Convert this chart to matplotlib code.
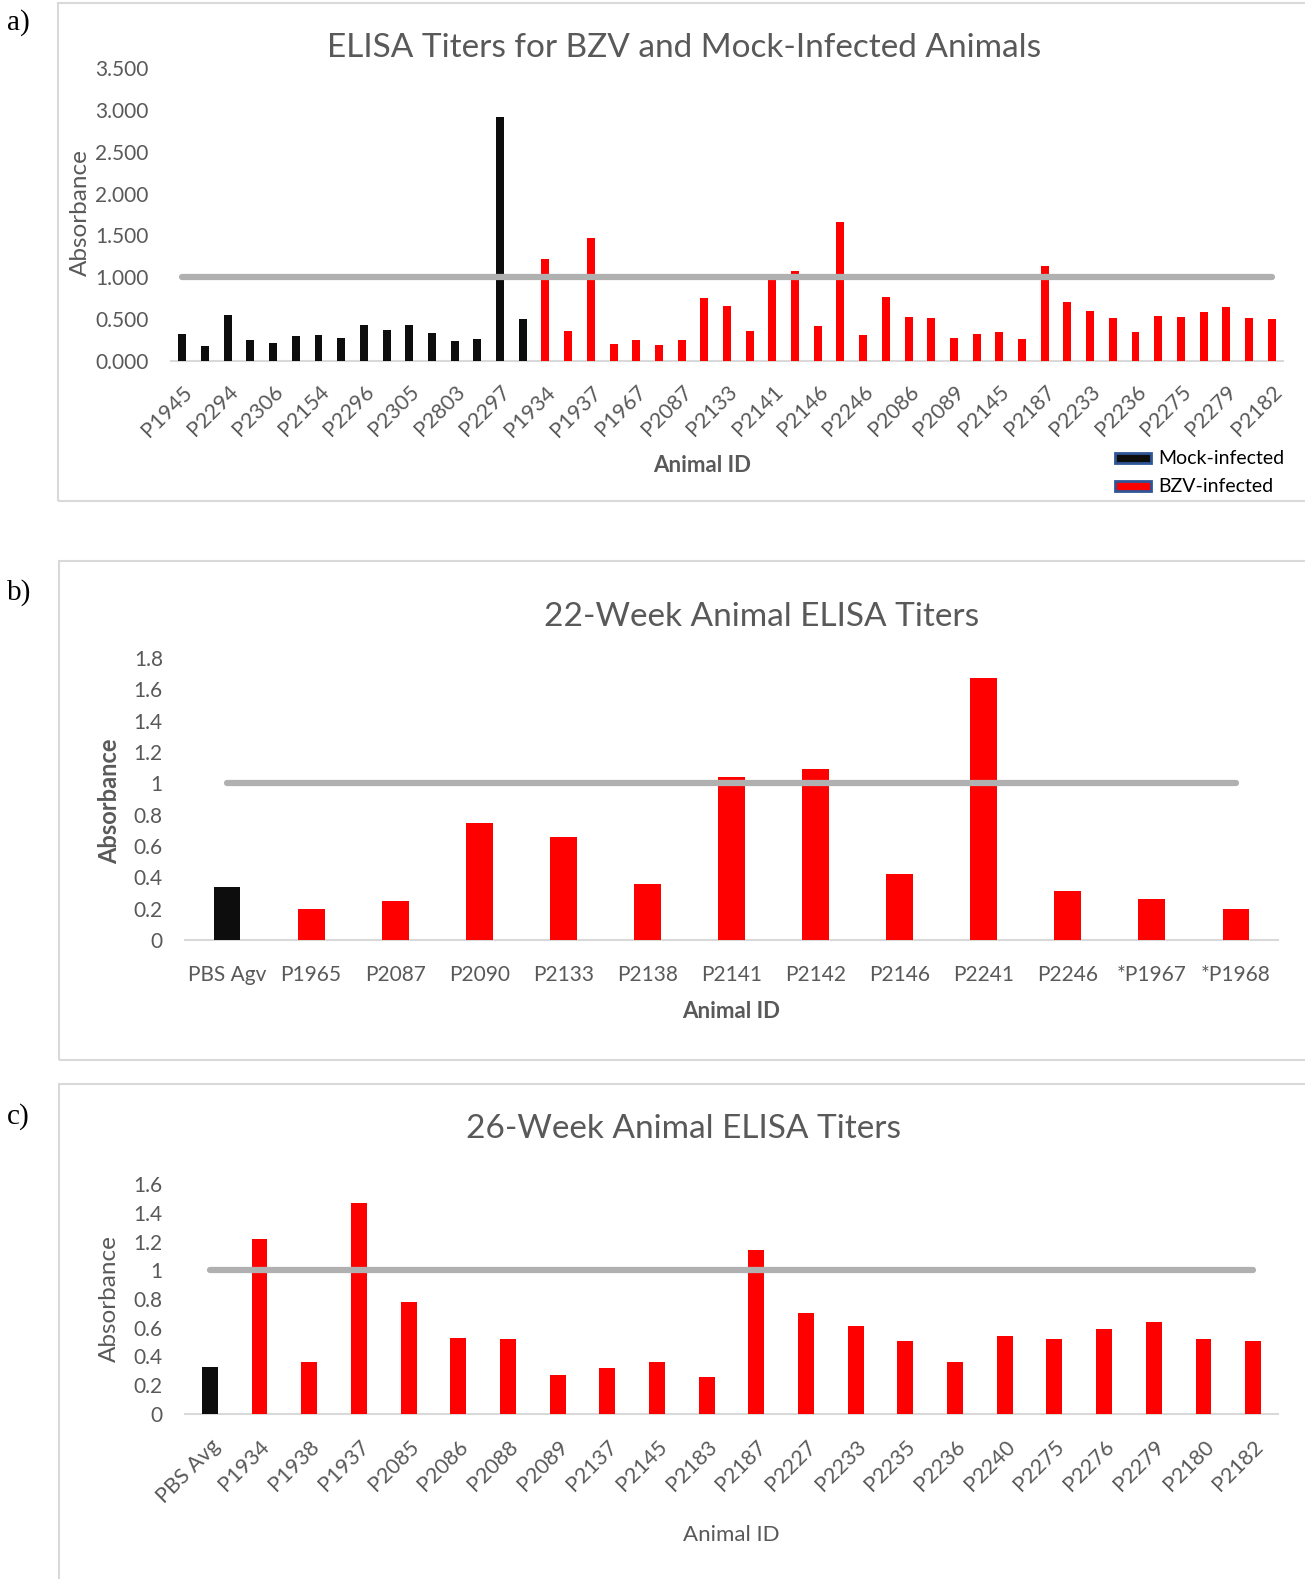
import matplotlib
matplotlib.use("Agg")
import matplotlib.pyplot as plt
from matplotlib.patches import Rectangle

plt.rcParams['font.family'] = ['Lato', 'DejaVu Sans']

W, H = 1305, 1579
GREY_TXT = '#595959'
RED = '#ff0000'
BLACK = '#0d0d0d'
CUTOFF = 1.0

# panel a: all animals (mock first, then BZV), only every other ID is labelled
mock_vals = [0.32, 0.18, 0.55, 0.25, 0.21, 0.30, 0.31, 0.27,
             0.43, 0.37, 0.43, 0.34, 0.24, 0.26, 2.91, 0.50]
bzv_vals_a = [1.22, 0.36, 1.47, 0.20, 0.25, 0.19, 0.25, 0.75, 0.66, 0.36, 1.04,
              1.08, 0.42, 1.66, 0.31, 0.77, 0.52, 0.51, 0.27, 0.32, 0.35, 0.26,
              1.14, 0.70, 0.60, 0.51, 0.35, 0.54, 0.52, 0.59, 0.64, 0.51, 0.50]
a_shown_labels = ['P1945', 'P2294', 'P2306', 'P2154', 'P2296', 'P2305', 'P2803',
                  'P2297', 'P1934', 'P1937', 'P1967', 'P2087', 'P2133', 'P2141',
                  'P2146', 'P2246', 'P2086', 'P2089', 'P2145', 'P2187', 'P2233',
                  'P2236', 'P2275', 'P2279', 'P2182']
a_yticks = [0, 0.5, 1.0, 1.5, 2.0, 2.5, 3.0, 3.5]

# panel b: 22-week
b_ids = ['PBS Agv', 'P1965', 'P2087', 'P2090', 'P2133', 'P2138', 'P2141',
         'P2142', 'P2146', 'P2241', 'P2246', '*P1967', '*P1968']
b_vals = [0.34, 0.20, 0.25, 0.75, 0.66, 0.36, 1.04, 1.09, 0.42, 1.67, 0.31,
          0.26, 0.20]
b_yticks = [0, 0.2, 0.4, 0.6, 0.8, 1, 1.2, 1.4, 1.6, 1.8]

# panel c: 26-week
c_ids = ['PBS Avg', 'P1934', 'P1938', 'P1937', 'P2085', 'P2086', 'P2088',
         'P2089', 'P2137', 'P2145', 'P2183', 'P2187', 'P2227', 'P2233',
         'P2235', 'P2236', 'P2240', 'P2275', 'P2276', 'P2279', 'P2180', 'P2182']
c_vals = [0.33, 1.22, 0.36, 1.47, 0.78, 0.53, 0.52, 0.27, 0.32, 0.36, 0.26,
          1.14, 0.70, 0.61, 0.51, 0.36, 0.54, 0.52, 0.59, 0.64, 0.52, 0.51]
c_yticks = [0, 0.2, 0.4, 0.6, 0.8, 1, 1.2, 1.4, 1.6]


def fx(x):
    return x / W


def fy(y):
    return 1 - y / H


def add_ax(fig, left, top, right, bottom):
    return fig.add_axes([fx(left), fy(bottom), (right - left) / W, (bottom - top) / H])


def style_ax(ax, n, ymax, yticks, ylabels):
    ax.set_xlim(-0.5, n - 0.5)
    ax.set_ylim(0, ymax)
    for s in ['top', 'right', 'left']:
        ax.spines[s].set_visible(False)
    ax.spines['bottom'].set_color('#d9d9d9')
    ax.spines['bottom'].set_linewidth(1.5)
    ax.set_yticks(yticks)
    ax.set_yticklabels(ylabels)
    ax.tick_params(length=0, labelsize=15, labelcolor=GREY_TXT)
    ax.tick_params(axis='y', pad=16)
    ax.set_facecolor('none')


def cutoff_line(ax, n):
    ax.plot([0, n - 1], [CUTOFF, CUTOFF], color='#b0b0b0', lw=4.5,
            solid_capstyle='round', zorder=5)


fig = plt.figure(figsize=(W / 100, H / 100), dpi=100)

# panel frames
for (l, t, r, b) in [(58, 3, 1320, 501), (59, 561, 1320, 1060), (59, 1084, 1320, 1600)]:
    fig.add_artist(Rectangle((fx(l), fy(b)), (r - l) / W, (b - t) / H,
                             transform=fig.transFigure, fill=False,
                             edgecolor='#d9d9d9', lw=1.5))

# ---- panel a
ax = add_ax(fig, 171, 68, 1283, 361)
vals_a = mock_vals + bzv_vals_a
cols_a = [BLACK] * len(mock_vals) + [RED] * len(bzv_vals_a)
n_a = len(vals_a)
ax.bar(range(n_a), vals_a, width=0.35, color=cols_a, zorder=3)
cutoff_line(ax, n_a)
style_ax(ax, n_a, 3.5, a_yticks, ['%.3f' % v for v in a_yticks])
ax.set_xticks(range(0, n_a, 2))
ax.set_xticklabels(a_shown_labels, rotation=45, ha='right', rotation_mode='anchor')
ax.tick_params(axis='x', pad=15, labelsize=15.5)
fig.text(fx(684), fy(48), 'ELISA Titers for BZV and Mock-Infected Animals',
         ha='center', va='center', fontsize=24, color=GREY_TXT)
fig.text(fx(80), fy(213), 'Absorbance', rotation=90, ha='center', va='center',
         fontsize=17.5, color=GREY_TXT)
fig.text(fx(702), fy(466), 'Animal ID', ha='center', va='center', fontsize=16,
         fontweight='bold', color=GREY_TXT)
for i, (lab, col) in enumerate([('Mock-infected', BLACK), ('BZV-infected', RED)]):
    yy = 458 + 28 * i
    fig.add_artist(Rectangle((fx(1115), fy(yy + 5)), 36 / W, 10 / H,
                             transform=fig.transFigure, facecolor=col,
                             edgecolor='#2f5597', lw=2))
    fig.text(fx(1158), fy(yy), lab, ha='left', va='center', fontsize=14,
             color='#000000')

# ---- panel b
ax = add_ax(fig, 185, 658, 1278, 940)
n_b = len(b_vals)
ax.bar(range(n_b), b_vals, width=0.32, color=[BLACK] + [RED] * (n_b - 1), zorder=3)
cutoff_line(ax, n_b)
style_ax(ax, n_b, 1.8, b_yticks, ['%g' % v for v in b_yticks])
ax.set_xticks(range(n_b))
ax.set_xticklabels(b_ids)
ax.tick_params(axis='x', pad=18)
fig.text(fx(762), fy(617), '22-Week Animal ELISA Titers', ha='center', va='center',
         fontsize=24, color=GREY_TXT)
fig.text(fx(110), fy(801), 'Absorbance', rotation=90, ha='center', va='center',
         fontsize=17, fontweight='bold', color=GREY_TXT)
fig.text(fx(731), fy(1011), 'Animal ID', ha='center', va='center', fontsize=16,
         fontweight='bold', color=GREY_TXT)

# ---- panel c
ax = add_ax(fig, 185, 1184, 1278, 1414)
n_c = len(c_vals)
ax.bar(range(n_c), c_vals, width=0.32, color=[BLACK] + [RED] * (n_c - 1), zorder=3)
cutoff_line(ax, n_c)
style_ax(ax, n_c, 1.6, c_yticks, ['%g' % v for v in c_yticks])
ax.set_xticks(range(n_c))
ax.set_xticklabels(c_ids, rotation=45, ha='right', rotation_mode='anchor')
ax.tick_params(axis='x', pad=16, labelsize=15.5)
fig.text(fx(683), fy(1129), '26-Week Animal ELISA Titers', ha='center', va='center',
         fontsize=24, color=GREY_TXT)
fig.text(fx(109), fy(1299), 'Absorbance', rotation=90, ha='center', va='center',
         fontsize=17.5, color=GREY_TXT)
fig.text(fx(731), fy(1535), 'Animal ID', ha='center', va='center', fontsize=16,
         color=GREY_TXT)

# panel letters
for lab, yy in [('a)', 23), ('b)', 593), ('c)', 1117)]:
    fig.text(fx(7), fy(yy), lab, ha='left', va='center', fontsize=21,
             family='Liberation Serif', color='#000000')

fig.savefig('out.png', dpi=100, facecolor='white')
